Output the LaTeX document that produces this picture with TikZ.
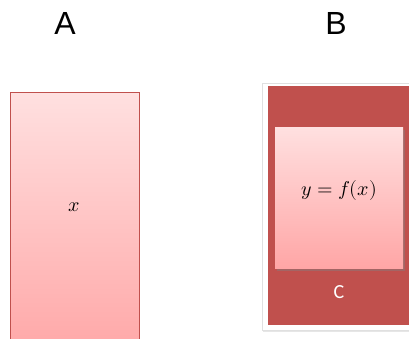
\documentclass[tikz,border=0pt]{standalone}
\usepackage{fontspec}
\usepackage{unicode-math}
\setmathfont{Latin Modern Math}
\setsansfont{Liberation Sans}
\newfontfamily\labelfont{Carlito}
\usetikzlibrary{shadows}

\definecolor{boxred}{RGB}{192,80,77}
\definecolor{pinktop}{RGB}{255,224,224}
\definecolor{pinkbot}{RGB}{255,166,166}

\begin{document}
\begin{tikzpicture}[x=1pt, y=-1pt,
            header/.style={font=\sffamily\fontsize{32}{36}\selectfont},
            varlabel/.style={font=\fontsize{20}{24}\selectfont},
            pinkbox/.style={rectangle, inner sep=0pt, top color=pinktop, bottom color=pinkbot},
            framebox/.style={rectangle, inner sep=0pt, fill=white, draw=black!12, drop shadow={opacity=0.2, shadow xshift=0.5pt, shadow yshift=-2pt}},
            redbox/.style={rectangle, inner sep=0pt, fill=boxred},
            clabel/.style={font=\labelfont\fontsize{20}{24}\selectfont, text=white}
        ]
        \useasboundingbox (0,0) rectangle (409,338);
        \clip (0,0) rectangle (409,338);

        % Ueberschriften
        \node[header] (hA) at (65,23) {A};
        \node[header] (hB) at (336,23) {B};

        % Kasten A
        \node[pinkbox, draw=boxred, minimum width=129pt, minimum height=268pt] (boxA) at (74.5,226) {};
        \node[varlabel] (x) at (74.5,207) {$x$};

        % Kasten B mit Rahmen
        \node[framebox, minimum width=150pt, minimum height=247pt] (frameB) at (337,206.5) {};
        \node[redbox, minimum width=144pt, minimum height=239pt] (boxC) at (340,205.5) {};
        \node[pinkbox, drop shadow={opacity=0.45, shadow xshift=1.5pt, shadow yshift=-2.5pt}, minimum width=128pt, minimum height=141pt] (boxB) at (339,197.5) {};
        \node[varlabel] (fx) at (339,190) {$y = f(x)$};
        \node[clabel] (C) at (339,292) {C};

    \end{tikzpicture}
\end{document}
